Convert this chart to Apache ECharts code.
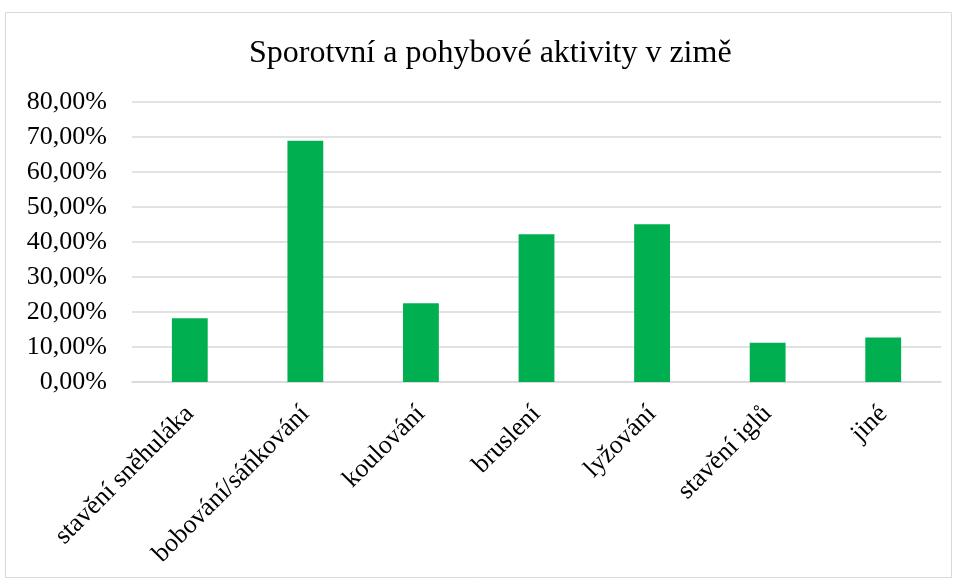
<!DOCTYPE html>
<html>
<head>
<meta charset="utf-8">
<script src="https://cdn.jsdelivr.net/npm/echarts@6/dist/echarts.min.js"></script>
<style>
html, body { margin: 0; padding: 0; background: #fff; }
#chart { width: 957px; height: 580px; }
</style>
</head>
<body>
<div id="chart"></div>
<script>
var categories = ['stavění sněhuláka', 'bobování/sáňkování', 'koulování', 'bruslení', 'lyžování', 'stavění iglů', 'jiné'];
var shares = [0.182, 0.689, 0.225, 0.422, 0.451, 0.112, 0.127];
var yTicks = [0, 0.1, 0.2, 0.3, 0.4, 0.5, 0.6, 0.7, 0.8];

var font = '"Liberation Serif", "Times New Roman", serif';
var chart = echarts.init(document.getElementById('chart'));

// popisky osy y ve formátu 10,00%
function pct(v) {
    return (v * 100).toFixed(2).replace('.', ',') + '%';
}

chart.setOption({
    animation: false,
    title: {
        text: 'Sporotvní a pohybové aktivity v zimě',
        left: 244,
        top: 33,
        textStyle: { fontFamily: font, fontSize: 32, fontWeight: 'normal', color: '#000' }
    },
    graphic: [{
        type: 'rect',
        shape: { x: 5.5, y: 12.5, width: 946, height: 565 },
        style: { fill: 'none', stroke: '#d9d9d9', lineWidth: 1 },
        silent: true
    }],
    grid: { left: 132, right: 16, top: 102, bottom: 198 },
    xAxis: {
        type: 'category',
        data: categories,
        axisLine: { lineStyle: { color: '#d9d9d9', width: 1.5 } },
        axisTick: { show: false },
        axisLabel: {
            rotate: 45,
            interval: 0,
            margin: 28,
            fontFamily: font,
            fontSize: 26,
            color: '#000'
        }
    },
    yAxis: {
        type: 'value',
        min: yTicks[0],
        max: yTicks[yTicks.length - 1],
        interval: 0.1,
        axisLine: { show: false },
        axisTick: { show: false },
        splitLine: { lineStyle: { color: '#d9d9d9', width: 1.5 } },
        axisLabel: {
            margin: 25,
            fontFamily: font,
            fontSize: 26,
            color: '#000',
            formatter: pct
        }
    },
    series: [{
        type: 'bar',
        data: shares,
        barWidth: '31%',
        itemStyle: { color: '#00b050' }
    }]
});
</script>
</body>
</html>
